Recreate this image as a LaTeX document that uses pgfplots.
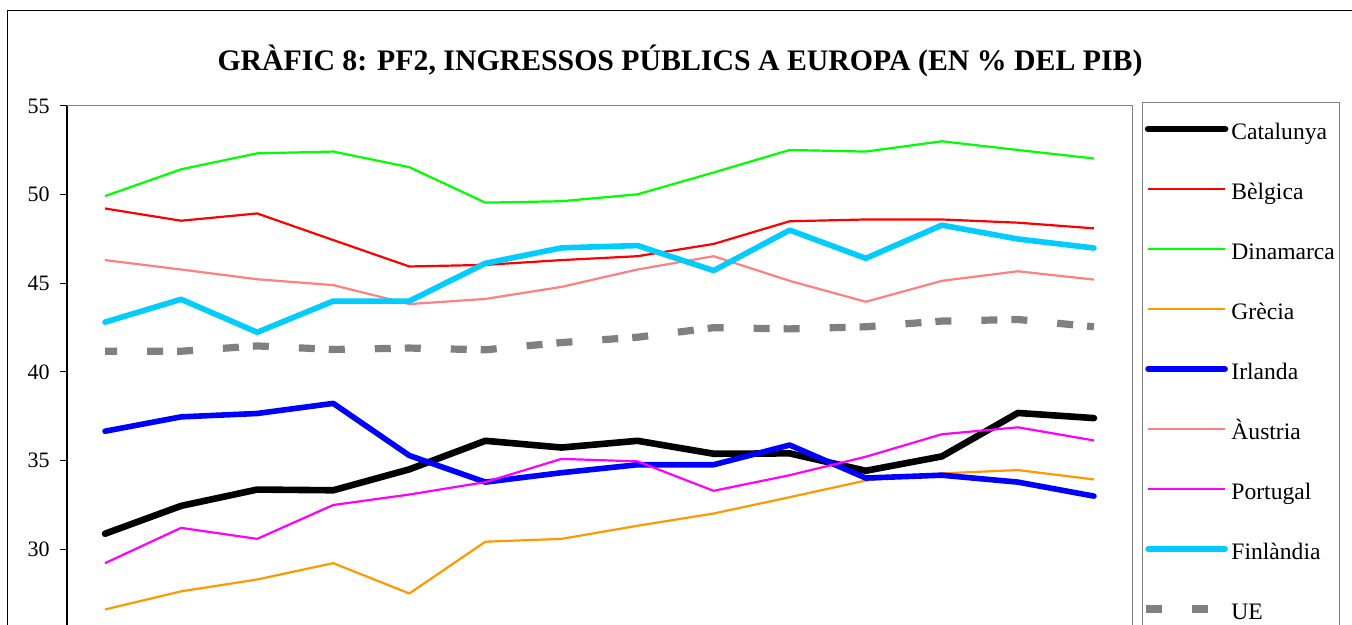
\documentclass[border=0pt]{standalone}
\usepackage{fontspec}
\setmainfont{Liberation Serif}
\usepackage{pgfplots}
\pgfplotsset{compat=1.18}
\usepackage{pgfplotstable}
\definecolor{cgreen}{HTML}{00FF00}
\definecolor{cred}{HTML}{FF0000}
\definecolor{corange}{HTML}{FF9900}
\definecolor{cblue}{HTML}{0000FF}
\definecolor{cpink}{HTML}{FF8080}
\definecolor{cmag}{HTML}{FF00FF}
\definecolor{ccyan}{HTML}{00CCFF}
\definecolor{cgray}{HTML}{808080}

\pgfplotsset{
  linelegend/.style={legend image code/.code={\draw[##1] (0pt,2.5pt) -- (38.5pt,2.5pt);}},
  uelegend/.style={legend image code/.code={\draw[##1, dash phase=0pt] (-1pt,2.5pt) -- (30pt,2.5pt);}},
}

\pgfplotstableread{
x cat bel din gre irl aus por fin ue
0  30.88 49.22 49.92 26.61 36.66 46.31 29.22 42.81 41.17
1  32.45 48.53 51.43 27.63 37.47 45.78 31.21 44.10 41.17
2  33.37 48.94 52.33 28.30 37.66 45.23 30.59 42.24 41.47
3  33.33 47.44 52.43 29.22 38.23 44.90 32.50 44.00 41.27
4  34.51 45.95 51.55 27.51 35.29 43.83 33.09 44.00 41.35
5  36.12 46.04 49.55 30.43 33.79 44.12 33.79 46.13 41.25
6  35.74 46.31 49.63 30.59 34.32 44.80 35.10 47.00 41.66
7  36.12 46.53 50.02 31.33 34.77 45.78 34.96 47.13 41.96
8  35.39 47.22 51.25 32.02 34.77 46.53 33.30 45.72 42.50
9  35.41 48.50 52.52 32.94 35.88 45.14 34.18 48.00 42.43
10 34.43 48.60 52.43 33.88 34.02 43.96 35.22 46.41 42.55
11 35.24 48.60 53.01 34.28 34.18 45.14 36.49 48.28 42.87
12 37.69 48.42 52.52 34.47 33.79 45.68 36.88 47.50 42.96
13 37.40 48.10 52.04 33.94 33.00 45.21 36.14 46.99 42.55
}\data

\begin{document}
\begin{tikzpicture}
\draw[black, line width=0.6pt] (3.85pt,-20pt) rectangle (700pt,307.35pt);
\node[anchor=base, font=\fontsize{14.9}{17}\selectfont\bfseries] at (340pt,277pt)
  {GRÀFIC 8: PF2, INGRESSOS PÚBLICS A EUROPA (EN \% DEL PIB)};
\begin{axis}[
  at={(33.5pt,259.5pt)}, anchor=north west,
  width=532.5pt, height=266pt, scale only axis,
  xmin=-0.5, xmax=13.5, ymin=25, ymax=55,
  xtick=\empty,
  ytick={30,35,40,45,50,55},
  ytick pos=left,
  tick align=outside,
  major tick length=3.5pt,
  ytick style={black, line width=0.5pt},
  axis line style={draw=cgray, line width=0.5pt},
  /pgf/number format/assume math mode=true,
  yticklabel style={font=\fontsize{11}{13}\selectfont, inner sep=0pt, anchor=east, xshift=-5pt},
  clip=false,
  linelegend,
  legend style={at={(1.00939,1.00752)}, anchor=north west,
    draw=cgray, line width=0.5pt,
    inner xsep=0pt, inner ysep=10.5pt,
    font=\fontsize{11.8}{13}\selectfont,
    nodes={inner sep=0pt, text width=54pt, text height=8pt, text depth=2.5pt},
    row sep=19.5pt, column sep=1.5pt},
  legend cell align=left,
]
\addplot[black, line width=3.3pt, line cap=round, line join=round] table[x=x,y=cat]{\data};
\addlegendentry{Catalunya}
\addplot[cred, line width=1.1pt, line join=round] table[x=x,y=bel]{\data};
\addlegendentry{Bèlgica}
\addplot[cgreen, line width=1.1pt, line join=round] table[x=x,y=din]{\data};
\addlegendentry{Dinamarca}
\addplot[corange, line width=1.1pt, line join=round] table[x=x,y=gre]{\data};
\addlegendentry{Grècia}
\addplot[cblue, line width=2.8pt, line cap=round, line join=round] table[x=x,y=irl]{\data};
\addlegendentry{Irlanda}
\addplot[cpink, line width=1.1pt, line join=round] table[x=x,y=aus]{\data};
\addlegendentry{Àustria}
\addplot[cmag, line width=1.1pt, line join=round] table[x=x,y=por]{\data};
\addlegendentry{Portugal}
\addplot[ccyan, line width=2.8pt, line cap=round, line join=round] table[x=x,y=fin]{\data};
\addlegendentry{Finlàndia}
\addplot[cgray, line width=3.6pt, dash pattern=on 8pt off 15pt on 8pt off 7pt, dash phase=2pt, uelegend] table[x=x,y=ue]{\data};
\addlegendentry{UE}
\draw[black, line width=0.6pt] (rel axis cs:0,0) -- (rel axis cs:0,1);
\end{axis}
\pgfresetboundingbox
\useasboundingbox (0,0) rectangle (676pt,312.5pt);
\end{tikzpicture}
\end{document}
